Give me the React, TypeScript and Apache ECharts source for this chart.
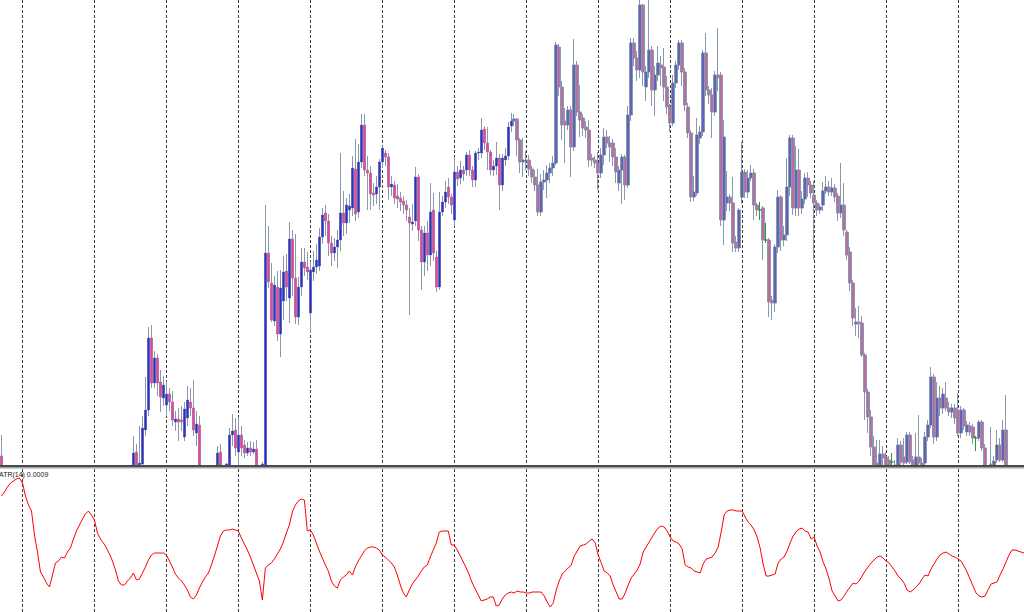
import React, { useEffect, useRef } from "react";
import * as echarts from "echarts";

// H1 bars, one "day" = 24 bars. null marks a bar that lies entirely below the visible price window.
const BAR_COUNT = 342;
const DAY_START_OFFSET = 7; // first period separator sits on bar 7
const hidden = (n: number): (number | null)[] => Array(n).fill(null);

// Prices in chart points (0 = lower edge of the price window)
const opens: (number | null)[] = [
  10, ...hidden(43),
  0, 14, 0, 2,
  36, 56, 128, 83, 108, 84, 68, 61, 72, 64, 44, 47, 46, 29, 48, 64, 58, 33, 41,
  ...hidden(5),
  0, 14, null, 0, 0, 31, 36, 14, 31, 21, 13, 18, 14, 17, null, 0, 0, 213, 183, 145, 179, 132, 165, 195,
  168, 227, 188, 149, 179, 204, 199, 153, 194, 199, 200, 229, 253, 245, 223, 213, 219, 226, 253, 243, 256, 258, 297, 254,
  304, 341, 296, 293, 273, 272, 279, 304, 313, 309, 279, 281, 270, 268, 265, 261, 249, 242, 245, 289, 236, 204, 233, 211,
  256, 209, 179, 254, 264, 279, 269, 246, 294, 288, 296, 296, 311, 296, 286, 313, 313, 337, 323, 314, 296, 300, 308, 281,
  306, 310, 340, 345, 347, 326, 304, 305, 306, 297, 289, 281, 254, 284, 286, 293, 298, 303, 419, 379, 345, 341, 356, 319,
  401, 354, 348, 339, 336, 308, 306, 303, 293, 311, 329, 323, 323, 309, 283, 296, 309, 281, 351, 423, 408, 396, 461, 379,
  394, 416, 376, 391, 401, 399, 379, 359, 343, 383, 401, 423, 394, 359, 333, 269, 273, 328, 334, 413, 376, 371, 354, 391,
  391, 246, 263, 269, 263, 224, 218, 269, 294, 274, 288, 293, 261, 256, 258, 226, 226, 166, 163, 219, 269, 226, 231, 279,
  328, 258, 296, 258, 267, 288, 281, 271, 263, 256, 261, 275, 279, 274, 278, 270, 253, 261, 234, 214, 183, 142, 144, 143,
  111, 74, 49, 19, 3, 0, 12, 9, 6, 4, 0, 0, 21, 9, 4, 31, 6, 0, 9, 3, 3, 29, 41, 89,
  29, 68, 58, 68, 58, 54, 58, 56, 33, 56, 34, 40, 39, 28, 28, 44, 18, null, 2, 0, 6, 21, 6, 36,
  ...hidden(6),
];

const highs: (number | null)[] = [
  31, ...hidden(43),
  30, 22, 40, 50,
  89, 139, 141, 115, 112, 96, 90, 85, 78, 75, 55, 58, 60, 64, 80, 78, 86, 55, 50,
  ...hidden(5),
  20, 22, null, 3, 38, 52, 48, 49, 40, 26, 24, 25, 24, 26, null, 4, 261, 240, 203, 190, 195, 196, 210, 212,
  244, 236, 232, 189, 218, 218, 214, 205, 215, 222, 238, 258, 261, 252, 230, 228, 236, 313, 275, 268, 272, 310, 327, 322,
  352, 352, 310, 300, 283, 290, 307, 320, 316, 313, 290, 285, 282, 274, 270, 266, 258, 262, 299, 292, 240, 240, 245, 283,
  273, 215, 274, 270, 285, 288, 272, 309, 300, 305, 300, 314, 316, 300, 315, 318, 348, 340, 339, 316, 306, 324, 312, 312,
  318, 344, 353, 352, 348, 328, 328, 315, 311, 300, 296, 297, 292, 296, 301, 303, 310, 424, 422, 385, 358, 360, 360, 427,
  405, 381, 352, 345, 346, 312, 310, 314, 318, 338, 336, 330, 327, 318, 300, 312, 311, 360, 428, 428, 415, 466, 462, 400,
  470, 420, 400, 420, 410, 418, 390, 362, 391, 405, 426, 426, 398, 363, 336, 290, 348, 340, 416, 433, 380, 378, 395, 438,
  394, 346, 295, 272, 289, 230, 258, 324, 297, 296, 301, 297, 263, 264, 260, 243, 228, 170, 222, 276, 271, 240, 308, 331,
  331, 320, 317, 275, 293, 294, 285, 285, 266, 262, 284, 290, 285, 288, 282, 273, 303, 283, 236, 219, 186, 158, 160, 150,
  113, 77, 56, 30, 26, 26, 20, 14, 10, 13, 6, 28, 25, 28, 34, 34, 10, 33, 51, 8, 34, 46, 99, 92,
  84, 80, 78, 84, 64, 62, 62, 73, 60, 58, 45, 44, 42, 30, 46, 46, 22, null, 39, 10, 36, 28, 46, 71,
  ...hidden(6),
];

const lows: (number | null)[] = [
  0, ...hidden(43),
  0, 0, 0, 0,
  30, 50, 78, 78, 70, 54, 60, 50, 55, 40, 35, 25, 35, 25, 40, 50, 30, 20, 0,
  ...hidden(5),
  0, 0, null, 0, 0, 20, 10, 0, 10, 8, 10, 10, 12, 0, null, 0, 0, 178, 144, 140, 125, 109, 146, 165,
  143, 170, 142, 141, 170, 190, 186, 133, 185, 192, 195, 222, 230, 210, 200, 205, 198, 215, 230, 232, 243, 250, 245, 248,
  298, 290, 256, 256, 260, 262, 256, 298, 300, 266, 270, 262, 258, 255, 252, 245, 151, 235, 240, 225, 176, 190, 195, 200,
  205, 174, 176, 250, 258, 262, 252, 240, 280, 282, 285, 290, 290, 279, 279, 306, 308, 316, 296, 291, 290, 291, 256, 275,
  300, 306, 334, 340, 310, 293, 289, 296, 290, 283, 275, 250, 250, 276, 268, 283, 290, 301, 370, 326, 303, 336, 289, 315,
  350, 329, 330, 328, 299, 300, 298, 276, 288, 301, 318, 304, 300, 283, 275, 262, 266, 278, 345, 400, 385, 388, 380, 365,
  388, 360, 350, 385, 380, 365, 352, 334, 340, 378, 396, 380, 355, 328, 264, 265, 270, 322, 330, 370, 362, 328, 350, 375,
  240, 221, 255, 255, 214, 214, 214, 262, 268, 268, 285, 246, 250, 246, 206, 223, 149, 146, 154, 213, 215, 220, 225, 270,
  251, 250, 250, 252, 262, 269, 268, 206, 250, 252, 255, 272, 270, 270, 264, 245, 248, 230, 206, 175, 140, 130, 128, 109,
  46, 33, 10, 0, 0, 0, 0, 0, 0, 0, 0, 0, 0, 0, 2, 2, 0, 0, 0, 0, 0, 25, 38, 22,
  25, 50, 52, 55, 50, 48, 42, 30, 28, 36, 30, 30, 22, 15, 25, 15, 0, null, 0, 0, 3, 4, 4, 0,
  ...hidden(6),
];

const closes: (number | null)[] = [
  0, ...hidden(43),
  13, 0, 3, 38,
  56, 128, 83, 108, 83, 69, 81, 72, 64, 46, 47, 44, 44, 57, 66, 58, 36, 42, 0,
  ...hidden(5),
  13, 0, null, 2, 31, 35, 18, 31, 18, 13, 18, 14, 17, 0, null, 2, 213, 184, 146, 181, 132, 178, 194, 179,
  227, 188, 149, 179, 204, 198, 194, 196, 199, 206, 229, 251, 245, 223, 213, 219, 226, 253, 243, 261, 260, 298, 252, 304,
  341, 296, 293, 272, 271, 279, 304, 318, 309, 279, 282, 268, 267, 264, 261, 256, 243, 244, 289, 236, 204, 233, 211, 254,
  213, 179, 254, 264, 274, 269, 261, 294, 287, 296, 292, 311, 296, 286, 313, 314, 336, 323, 314, 296, 300, 308, 281, 308,
  310, 339, 345, 347, 326, 304, 306, 306, 297, 289, 281, 254, 284, 286, 293, 298, 303, 421, 379, 341, 341, 356, 319, 401,
  354, 346, 338, 336, 306, 306, 303, 293, 311, 329, 323, 319, 309, 294, 296, 309, 281, 351, 423, 408, 396, 461, 394, 394,
  416, 376, 391, 403, 398, 379, 359, 343, 383, 401, 423, 394, 361, 333, 269, 274, 331, 334, 413, 376, 371, 354, 391, 388,
  246, 329, 269, 263, 223, 218, 256, 294, 274, 288, 293, 261, 256, 256, 226, 226, 164, 163, 219, 269, 226, 231, 279, 328,
  258, 296, 258, 267, 288, 281, 273, 263, 256, 259, 275, 279, 274, 278, 269, 253, 261, 236, 211, 183, 148, 144, 142, 111,
  74, 49, 19, 0, 0, 12, 8, 0, 0, 4, 1, 21, 4, 3, 31, 4, 0, 9, 3, 0, 29, 41, 89, 29,
  68, 58, 72, 58, 54, 58, 48, 33, 56, 40, 41, 34, 28, 28, 44, 18, 0, null, 0, 5, 21, 6, 36, 0,
  ...hidden(6),
];

// ATR(14) in indicator-window units
const atr: number[] = [
  116, 120, 125, 129, 131, 133, 134, 129, 116, 107, 101, 77, 60, 40, 35, 29, 25, 37, 49, 51, 55, 54, 60, 64,
  73, 81, 87, 93, 98, 101, 97, 92, 79, 73, 69, 64, 58, 51, 42, 31, 27, 27, 31, 34, 39, 32, 33, 39,
  45, 52, 57, 59, 59, 59, 59, 57, 51, 45, 38, 34, 31, 27, 22, 15, 13, 17, 24, 30, 35, 39, 47, 56,
  66, 76, 81, 82, 82, 83, 82, 81, 74, 68, 62, 55, 47, 39, 31, 12, 44, 47, 49, 53, 58, 63, 70, 79,
  87, 100, 107, 111, 113, 112, 81, 82, 77, 69, 61, 54, 47, 41, 31, 26, 24, 32, 35, 37, 41, 37, 45, 51,
  56, 61, 64, 65, 65, 64, 62, 57, 55, 52, 49, 45, 37, 27, 19, 15, 22, 28, 32, 36, 41, 45, 47, 55,
  62, 69, 80, 81, 81, 81, 67, 67, 62, 56, 50, 44, 37, 29, 23, 17, 11, 12, 13, 15, 15, 6, 7, 13,
  17, 19, 20, 19, 21, 20, 20, 19, 19, 20, 20, 20, 20, 16, 10, 5, 9, 22, 31, 38, 41, 44, 47, 56,
  61, 66, 67, 68, 71, 73, 69, 57, 49, 41, 39, 36, 27, 20, 13, 13, 19, 27, 34, 38, 42, 48, 60, 65,
  70, 75, 80, 84, 86, 85, 81, 75, 71, 70, 68, 63, 47, 45, 44, 41, 40, 39, 48, 53, 54, 55, 59, 65,
  80, 97, 101, 102, 102, 101, 101, 101, 95, 90, 87, 82, 75, 64, 48, 36, 36, 37, 38, 49, 53, 55, 61, 69,
  76, 80, 83, 84, 81, 80, 73, 75, 66, 60, 50, 43, 33, 21, 16, 11, 12, 16, 21, 25, 29, 28, 31, 36,
  41, 45, 49, 52, 55, 56, 54, 51, 49, 45, 41, 36, 33, 29, 22, 20, 22, 25, 28, 33, 37, 36, 43, 48,
  53, 57, 59, 60, 58, 56, 55, 53, 51, 46, 40, 33, 26, 19, 16, 15, 16, 22, 28, 29, 30, 37, 43, 50,
  57, 62, 62, 61, 60, 59,
];

const bars = Array.from({ length: BAR_COUNT }, (_, i) => String(i));

export default function App() {
  const ref = useRef<HTMLDivElement | null>(null);

  useEffect(() => {
    if (!ref.current) return;
    const chart = echarts.init(ref.current, null, { renderer: "svg" });

    // full candles (outline + wicks)
    const candleData = opens.map((o, i) =>
      o === null ? "-" : [o, closes[i], lows[i], highs[i]]
    );
    // bodies only (filled with bull / bear colours)
    const bodyData = opens.map((o, i) => {
      const c = closes[i];
      if (o === null || c === null) return "-";
      return [o, c, Math.min(o, c), Math.max(o, c)];
    });

    const separatorLine = {
      show: true,
      interval: (idx: number) => idx % 24 === DAY_START_OFFSET,
      lineStyle: { color: "#3c3c3c", type: [3, 2], width: 1 },
    };

    const makeX = (gridIndex: number) => ({
      type: "category",
      gridIndex,
      data: bars,
      boundaryGap: false,
      axisLine: { show: false },
      axisTick: { show: false },
      axisLabel: { show: false },
      splitLine: separatorLine,
    });

    const WICK = "#8a98ab";

    chart.setOption({
      animation: false,
      backgroundColor: "#ffffff",
      grid: [
        { left: 1.5, top: 0, width: 1023, height: 466 },
        { left: 1.5, top: 469, width: 1023, height: 143 },
      ],
      xAxis: [makeX(0), makeX(1)],
      yAxis: [
        { type: "value", gridIndex: 0, min: 0, max: 466, show: false },
        { type: "value", gridIndex: 1, min: 0, max: 143, show: false },
      ],
      series: [
        {
          type: "candlestick",
          xAxisIndex: 0,
          yAxisIndex: 0,
          data: candleData,
          barWidth: 3,
          z: 2,
          itemStyle: {
            color: WICK,
            color0: WICK,
            borderColor: WICK,
            borderColor0: WICK,
            borderColorDoji: "#2e9a2e",
            borderWidth: 1,
          },
        },
        {
          type: "candlestick",
          xAxisIndex: 0,
          yAxisIndex: 0,
          data: bodyData,
          barWidth: 2,
          z: 3,
          itemStyle: {
            color: "#3030c8",
            color0: "#e8449c",
            borderColor: "#3030c8",
            borderColor0: "#e8449c",
            borderColorDoji: "#2e9a2e",
            borderWidth: 0,
          },
        },
        {
          type: "line",
          xAxisIndex: 1,
          yAxisIndex: 1,
          data: atr,
          symbol: "none",
          showSymbol: false,
          lineStyle: { color: "#ff0000", width: 1 },
          z: 3,
        },
      ],
      graphic: [
        { type: "rect", z: 100, shape: { x: 0, y: 465, width: 1024, height: 2 }, style: { fill: "#4a4a4a" } },
        { type: "rect", z: 100, shape: { x: 0, y: 467, width: 1024, height: 1.5 }, style: { fill: "#a4a4a4" } },
        {
          type: "text",
          z: 100,
          x: -1,
          y: 474.5,
          style: {
            text: "ATR(14) 0.0009",
            fill: "#222222",
            fontSize: 7,
            fontFamily: "Liberation Sans",
            verticalAlign: "middle",
          },
        },
      ],
    });

    return () => chart.dispose();
  }, []);

  return (
    <div
      ref={ref}
      style={{ position: "fixed", left: 0, top: 0, width: 1024, height: 612, background: "#fff" }}
    />
  );
}
